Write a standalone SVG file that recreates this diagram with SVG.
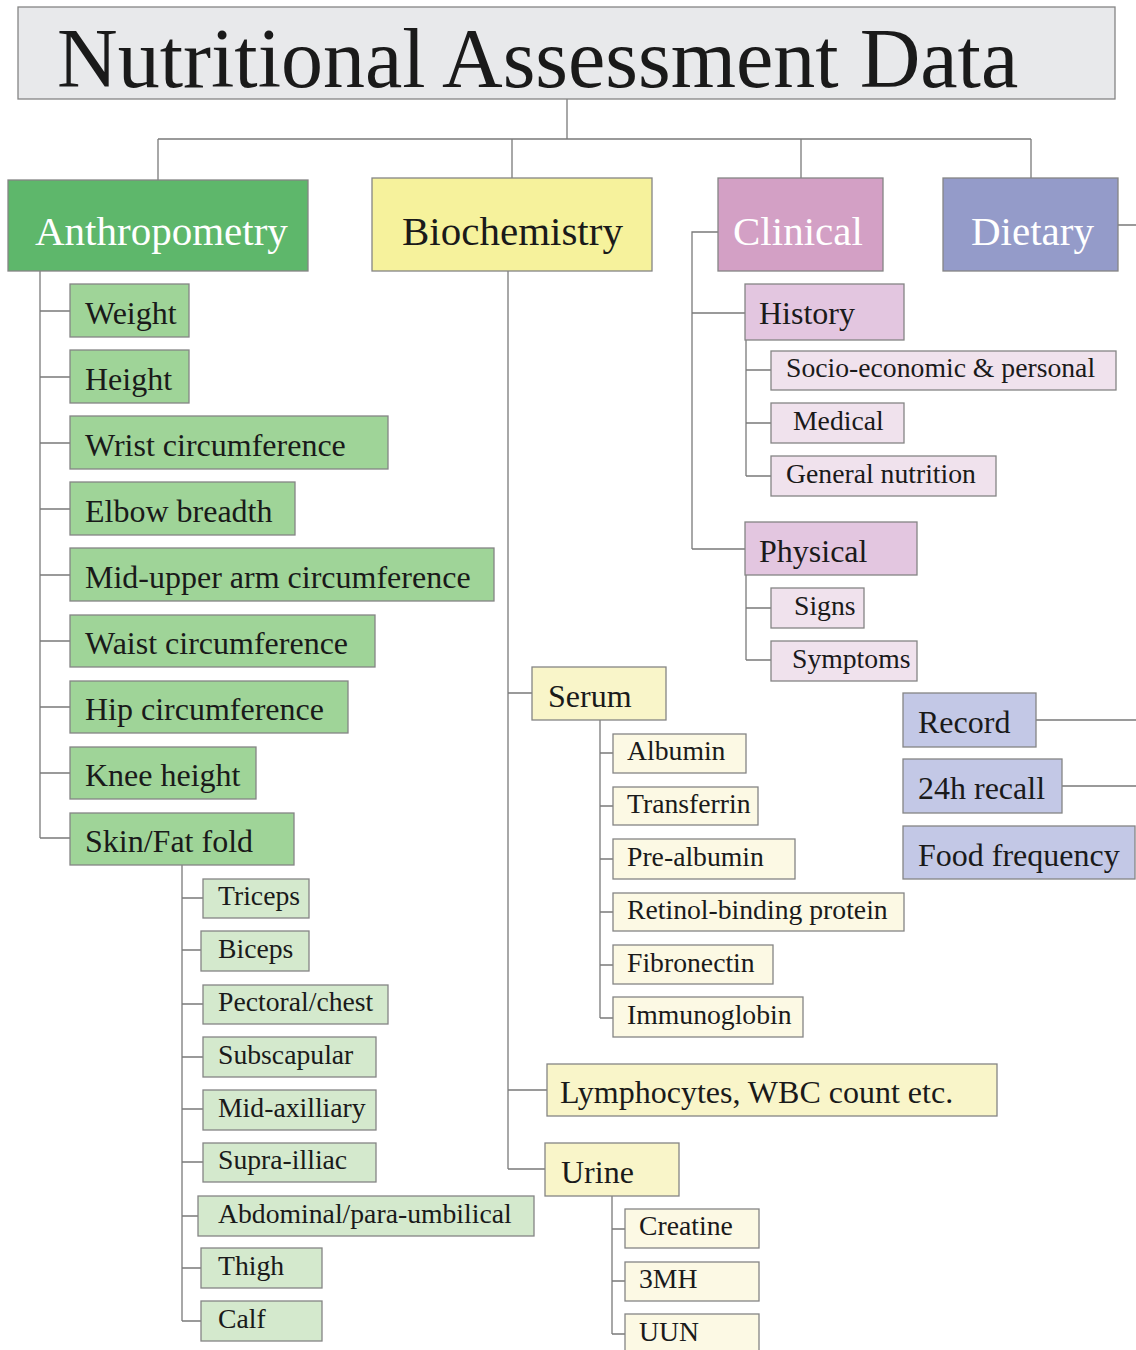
<svg xmlns="http://www.w3.org/2000/svg" width="1136" height="1350" viewBox="0 0 1136 1350">
<style>
text{font-family:"Liberation Serif","Times New Roman",serif;fill:#1a1a1a}
rect{stroke:#858585;stroke-width:1.3}
.t{font-size:84px}
.h{font-size:41px}
.w{fill:#ffffff}
.m{font-size:32px}
.s{font-size:27.7px}
.title{fill:#e8e9eb}
.g1{fill:#5eb76b}.g2{fill:#9fd498}.g3{fill:#d4e9cd}
.y1{fill:#f6f29c}.y2{fill:#f9f5c9}.y3{fill:#fcf9e4}
.p1{fill:#d3a0c5}.p2{fill:#e3c6e0}.p3{fill:#f0e2ed}
.b1{fill:#949bc9}.b2{fill:#c3c8e6}
#connectors path{fill:none;stroke:#7a7a7a;stroke-width:1.3}
</style>
<g id="connectors">
<path d="M567 99V139M158 139H1031M158 139V180M512 139V178M801 139V178M1031 139V178"/>
<path d="M40 271V838M40 311H70M40 377H70M40 443H70M40 509H70M40 575H70M40 641H70M40 707H70M40 773H70M40 838H70"/>
<path d="M182 865V1321M182 898H203M182 950H201M182 1004H203M182 1057H203M182 1109H203M182 1162H203M182 1216H198M182 1268H201M182 1321H201"/>
<path d="M508 271V1169M508 693H532M508 1090H547M508 1169H545"/>
<path d="M600 720V1018M600 753H613M600 806H613M600 859H613M600 912H613M600 965H613M600 1018H613"/>
<path d="M612 1196V1334M612 1229H625M612 1281H625M612 1334H625"/>
<path d="M718 232H692V549M692 313H745M692 549H745"/>
<path d="M746 340V476M746 370H771M746 423H771M746 476H771"/>
<path d="M746 575V660M746 608H771M746 660H771"/>
<path d="M1118 225H1136M1036 720H1136M1062 786H1136"/>
</g>
<g id="title"><rect class="title" x="18" y="7" width="1097" height="92"/><text class="t" x="57" y="87">Nutritional Assessment Data</text></g>
<g id="anthropometry"><rect class="g1" x="8" y="180" width="300" height="91"/><text class="h w" x="35" y="245">Anthropometry</text></g>
<g id="biochemistry"><rect class="y1" x="372" y="178" width="280" height="93"/><text class="h" x="402" y="245">Biochemistry</text></g>
<g id="clinical"><rect class="p1" x="718" y="178" width="165" height="93"/><text class="h w" x="733" y="245">Clinical</text></g>
<g id="dietary"><rect class="b1" x="943" y="178" width="175" height="93"/><text class="h w" x="971" y="245">Dietary</text></g>

<g id="weight"><rect class="g2" x="70" y="284" width="119" height="53"/><text class="m" x="85" y="324">Weight</text></g>
<g id="height"><rect class="g2" x="70" y="350" width="119" height="53"/><text class="m" x="85" y="390">Height</text></g>
<g id="wrist"><rect class="g2" x="70" y="416" width="318" height="53"/><text class="m" x="85" y="456">Wrist circumference</text></g>
<g id="elbow"><rect class="g2" x="70" y="482" width="225" height="53"/><text class="m" x="85" y="522">Elbow breadth</text></g>
<g id="muac"><rect class="g2" x="70" y="548" width="424" height="53"/><text class="m" x="85" y="588">Mid-upper arm circumference</text></g>
<g id="waist"><rect class="g2" x="70" y="615" width="305" height="52"/><text class="m" x="85" y="654">Waist circumference</text></g>
<g id="hip"><rect class="g2" x="70" y="681" width="278" height="52"/><text class="m" x="85" y="720">Hip circumference</text></g>
<g id="knee"><rect class="g2" x="70" y="747" width="186" height="52"/><text class="m" x="85" y="786">Knee height</text></g>
<g id="skinfold"><rect class="g2" x="70" y="813" width="224" height="52"/><text class="m" x="85" y="852">Skin/Fat fold</text></g>

<g id="triceps"><rect class="g3" x="203" y="879" width="106" height="39"/><text class="s" x="218" y="905">Triceps</text></g>
<g id="biceps"><rect class="g3" x="201" y="931" width="108" height="40"/><text class="s" x="218" y="958">Biceps</text></g>
<g id="pectoral"><rect class="g3" x="203" y="985" width="185" height="39"/><text class="s" x="218" y="1011">Pectoral/chest</text></g>
<g id="subscapular"><rect class="g3" x="203" y="1037" width="173" height="40"/><text class="s" x="218" y="1064">Subscapular</text></g>
<g id="midaxilliary"><rect class="g3" x="203" y="1090" width="173" height="40"/><text class="s" x="218" y="1117">Mid-axilliary</text></g>
<g id="suprailliac"><rect class="g3" x="203" y="1143" width="173" height="39"/><text class="s" x="218" y="1169">Supra-illiac</text></g>
<g id="abdominal"><rect class="g3" x="198" y="1196" width="336" height="40"/><text class="s" x="218" y="1223">Abdominal/para-umbilical</text></g>
<g id="thigh"><rect class="g3" x="201" y="1248" width="121" height="40"/><text class="s" x="218" y="1275">Thigh</text></g>
<g id="calf"><rect class="g3" x="201" y="1301" width="121" height="40"/><text class="s" x="218" y="1328">Calf</text></g>

<g id="serum"><rect class="y2" x="532" y="667" width="134" height="53"/><text class="m" x="548" y="707">Serum</text></g>
<g id="albumin"><rect class="y3" x="613" y="734" width="133" height="39"/><text class="s" x="627" y="760">Albumin</text></g>
<g id="transferrin"><rect class="y3" x="613" y="787" width="145" height="38"/><text class="s" x="627" y="813">Transferrin</text></g>
<g id="prealbumin"><rect class="y3" x="613" y="839" width="182" height="40"/><text class="s" x="627" y="866">Pre-albumin</text></g>
<g id="rbp"><rect class="y3" x="613" y="893" width="291" height="38"/><text class="s" x="627" y="919">Retinol-binding protein</text></g>
<g id="fibronectin"><rect class="y3" x="613" y="945" width="160" height="39"/><text class="s" x="627" y="972">Fibronectin</text></g>
<g id="immunoglobin"><rect class="y3" x="613" y="997" width="190" height="40"/><text class="s" x="627" y="1024">Immunoglobin</text></g>
<g id="lymphocytes"><rect class="y2" x="547" y="1064" width="450" height="52"/><text class="m" x="560" y="1103">Lymphocytes, WBC count etc.</text></g>
<g id="urine"><rect class="y2" x="545" y="1143" width="134" height="53"/><text class="m" x="561" y="1183">Urine</text></g>
<g id="creatine"><rect class="y3" x="625" y="1209" width="134" height="39"/><text class="s" x="639" y="1235">Creatine</text></g>
<g id="threemh"><rect class="y3" x="625" y="1262" width="134" height="39"/><text class="s" x="639" y="1288">3MH</text></g>
<g id="uun"><rect class="y3" x="625" y="1314" width="134" height="40"/><text class="s" x="639" y="1341">UUN</text></g>

<g id="history"><rect class="p2" x="745" y="284" width="159" height="56"/><text class="m" x="759" y="324">History</text></g>
<g id="socio"><rect class="p3" x="771" y="351" width="345" height="39"/><text class="s" x="786" y="377">Socio-economic &amp; personal</text></g>
<g id="medical"><rect class="p3" x="771" y="403" width="133" height="40"/><text class="s" x="793" y="430">Medical</text></g>
<g id="general"><rect class="p3" x="771" y="456" width="225" height="40"/><text class="s" x="786" y="483">General nutrition</text></g>
<g id="physical"><rect class="p2" x="745" y="522" width="172" height="53"/><text class="m" x="759" y="562">Physical</text></g>
<g id="signs"><rect class="p3" x="771" y="588" width="93" height="40"/><text class="s" x="794" y="615">Signs</text></g>
<g id="symptoms"><rect class="p3" x="771" y="641" width="146" height="40"/><text class="s" x="792" y="668">Symptoms</text></g>

<g id="record"><rect class="b2" x="903" y="693" width="133" height="54"/><text class="m" x="918" y="733">Record</text></g>
<g id="recall"><rect class="b2" x="903" y="759" width="159" height="54"/><text class="m" x="918" y="799">24h recall</text></g>
<g id="foodfreq"><rect class="b2" x="903" y="826" width="232" height="53"/><text class="m" x="918" y="866">Food frequency</text></g>
</svg>
